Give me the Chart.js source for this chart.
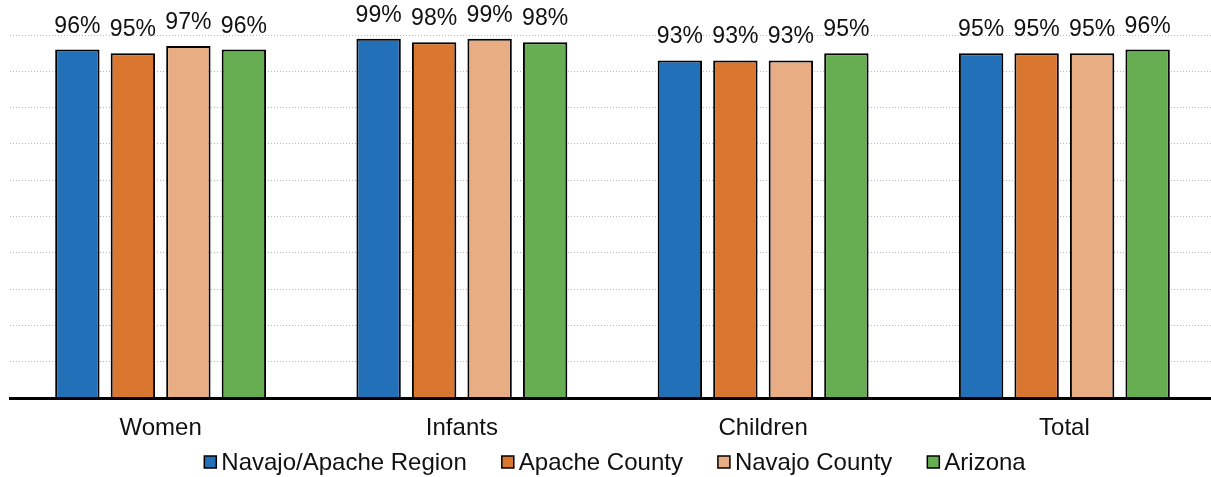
<!DOCTYPE html>
<html>
<head>
<meta charset="utf-8">
<script src="https://cdn.jsdelivr.net/npm/chart.js@4.4.1/dist/chart.umd.min.js"></script>
<style>
  html, body { margin: 0; padding: 0; background: #fff; overflow: hidden; }
  #wrap { width: 1216px; height: 477px; position: relative; }
</style>
</head>
<body>
<div id="wrap"><canvas id="chart" width="1216" height="477"></canvas></div>
<script>
// Coverage rates (%) by group
const categories = ['Women', 'Infants', 'Children', 'Total'];
const seriesNames = ['Navajo/Apache Region', 'Apache County', 'Navajo County', 'Arizona'];
const navajoApacheRegion = [96, 99, 93, 95];
const apacheCounty = [95, 98, 93, 95];
const navajoCounty = [97, 99, 93, 95];
const arizona = [96, 98, 95, 96];
const yMin = 0, yMax = 100, yStep = 10;

const seriesValues = [navajoApacheRegion, apacheCounty, navajoCounty, arizona];
const seriesColors = ['#2170B8', '#D97731', '#E8AD83', '#67AD52'];
const FONT = '"Liberation Sans", Arial, sans-serif';
const TEXT = '#111111';

// Percent labels above each bar
const valueLabels = {
  id: 'valueLabels',
  afterDatasetsDraw(chart) {
    const ctx = chart.ctx;
    ctx.save();
    ctx.font = '23px ' + FONT;
    ctx.fillStyle = TEXT;
    ctx.textAlign = 'center';
    ctx.textBaseline = 'alphabetic';
    chart.data.datasets.forEach((ds, i) => {
      chart.getDatasetMeta(i).data.forEach((bar, j) => {
        ctx.fillText(ds.data[j] + '%', bar.x, bar.y - 17);
      });
    });
    ctx.restore();
  }
};

// Legend row under the axis labels
const bottomLegend = {
  id: 'bottomLegend',
  afterDraw(chart) {
    const ctx = chart.ctx;
    ctx.save();
    ctx.font = '24px ' + FONT;
    const box = 12, gapText = 5, gapItem = 35;
    const items = chart.data.datasets.map(ds => ({
      text: ds.label, color: ds.backgroundColor, w: ctx.measureText(ds.label).width
    }));
    const total = items.reduce((s, it) => s + box + gapText + it.w, 0) + gapItem * (items.length - 1);
    let x = 615 - total / 2;
    const cy = 462;
    items.forEach(it => {
      ctx.fillStyle = it.color;
      ctx.fillRect(x, cy - box / 2, box, box);
      ctx.lineWidth = 1.5;
      ctx.strokeStyle = '#000';
      ctx.strokeRect(x, cy - box / 2, box, box);
      ctx.fillStyle = TEXT;
      ctx.textAlign = 'left';
      ctx.textBaseline = 'middle';
      ctx.fillText(it.text, x + box + gapText, cy + 1);
      x += box + gapText + it.w + gapItem;
    });
    ctx.restore();
  }
};

new Chart(document.getElementById('chart'), {
  type: 'bar',
  data: {
    labels: categories,
    datasets: seriesNames.map((name, i) => ({
      label: name,
      data: seriesValues[i],
      backgroundColor: seriesColors[i],
      borderColor: '#000000',
      borderWidth: 2,
      categoryPercentage: 0.737,
      barPercentage: 0.8
    }))
  },
  options: {
    responsive: false,
    animation: false,
    devicePixelRatio: 1,
    layout: { padding: { left: 10, right: 1, top: 35, bottom: 0 } },
    plugins: { legend: { display: false }, tooltip: { enabled: false } },
    scales: {
      x: {
        grid: { display: false, drawTicks: false },
        border: { display: true, color: '#000000', width: 3, z: 1 },
        ticks: { font: { family: FONT, size: 24 }, color: TEXT, padding: 16 },
        afterFit(scale) { scale.height = 79; }
      },
      y: {
        min: yMin, max: yMax,
        ticks: { display: false, stepSize: yStep },
        grid: { color: '#B8B8B8', lineWidth: 1, drawTicks: false, tickLength: 0 },
        border: { display: false, dash: [1, 2] },
        afterFit(scale) { scale.width = 0; }
      }
    }
  },
  plugins: [valueLabels, bottomLegend]
});
</script>
</body>
</html>
